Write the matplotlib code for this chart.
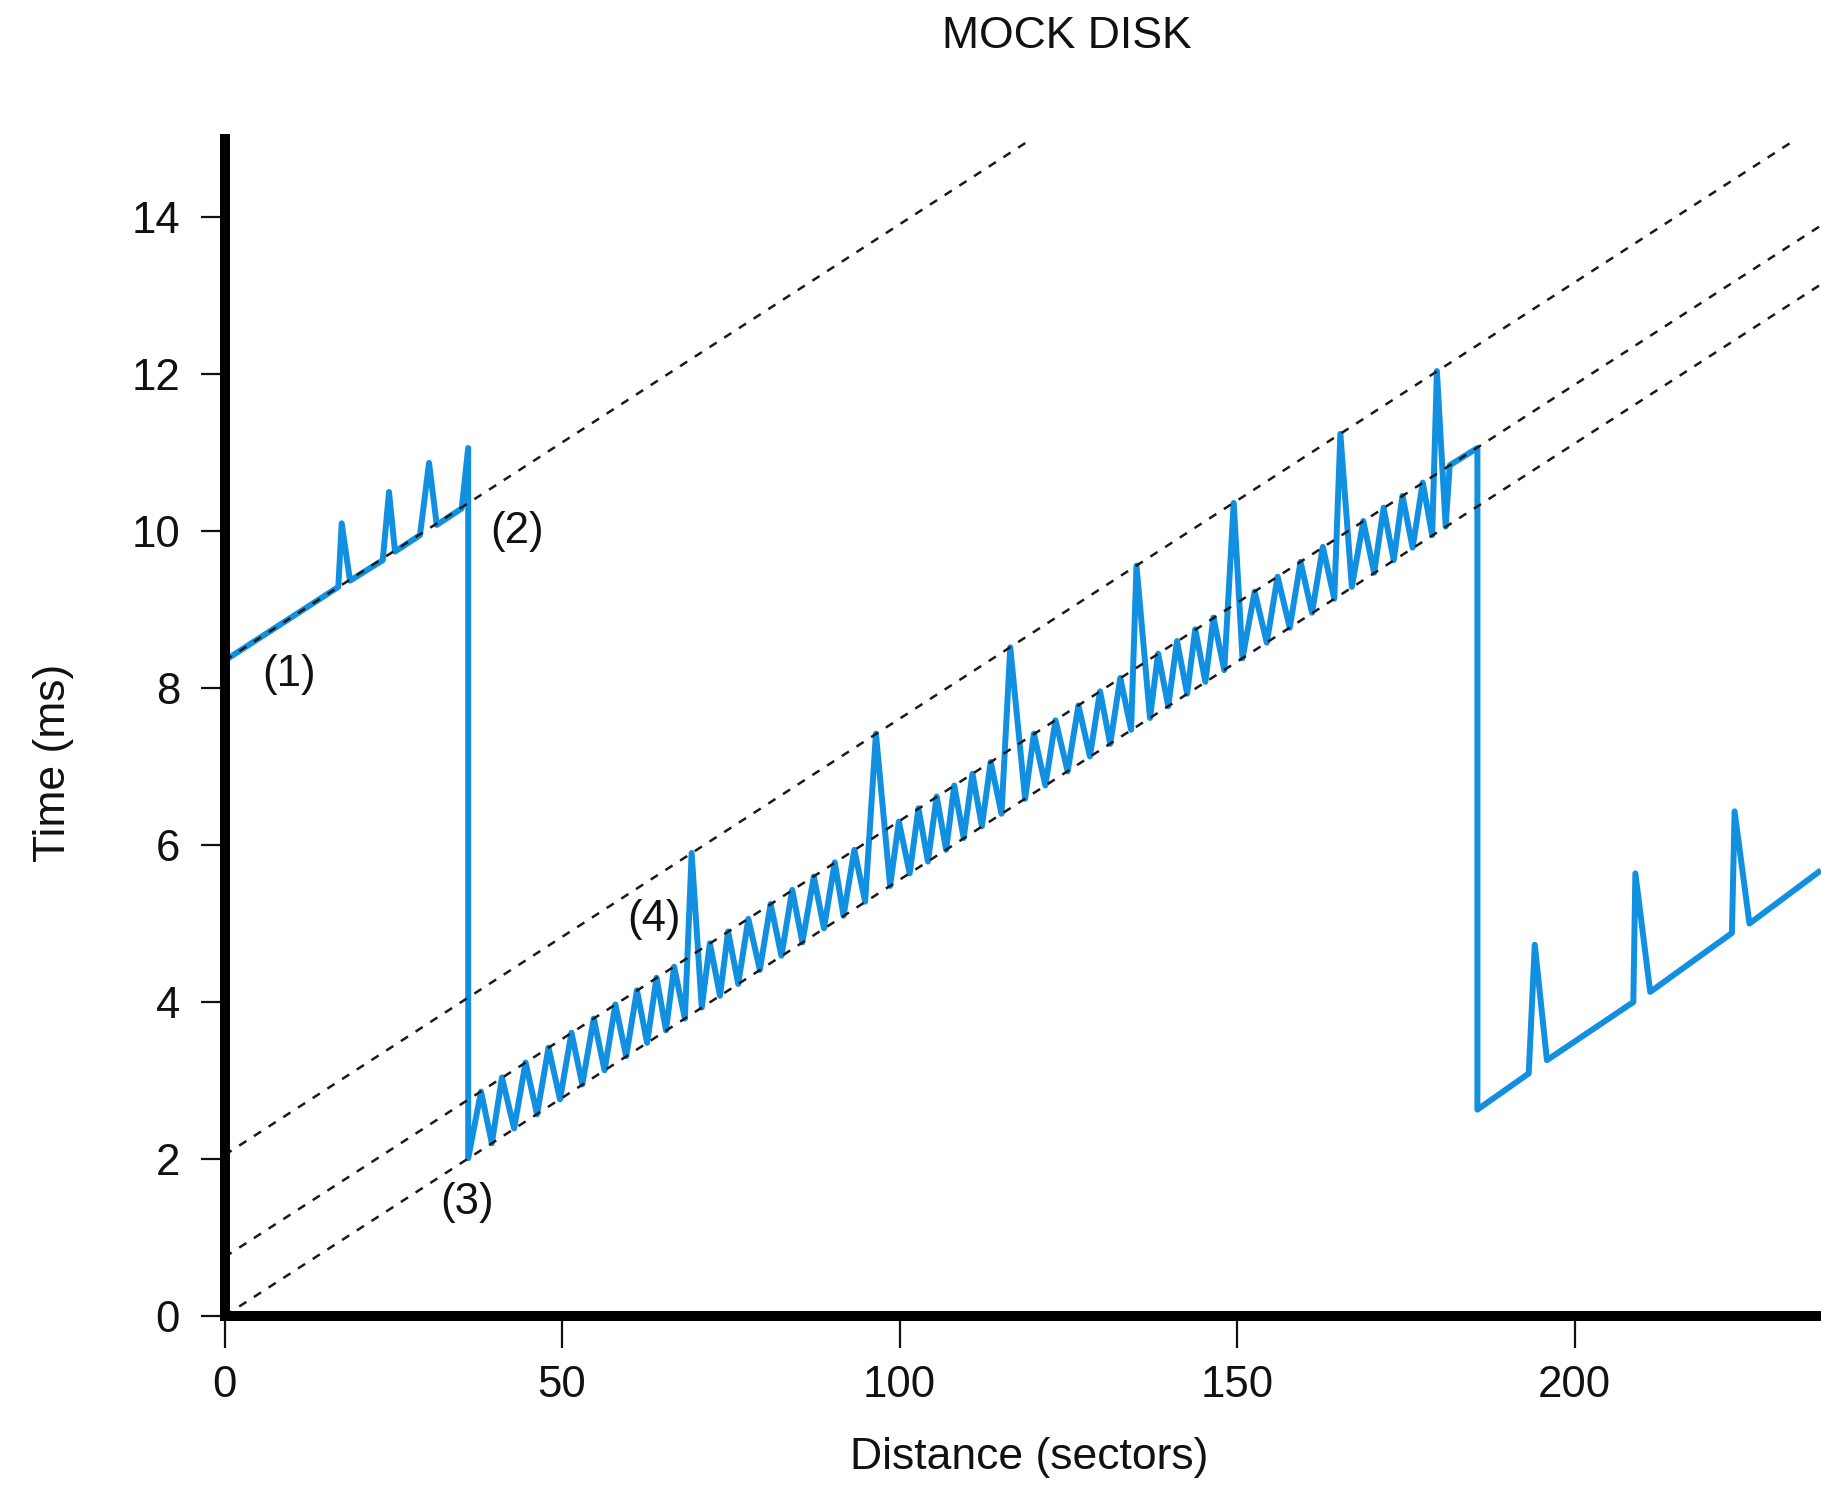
import matplotlib
matplotlib.use("Agg")
import matplotlib.pyplot as plt

plt.rcParams['font.family'] = ['Liberation Sans', 'DejaVu Sans']

# ---------------- data ----------------
title = "MOCK DISK"
x_label = "Distance (sectors)"
y_label = "Time (ms)"
x_ticks = [0, 50, 100, 150, 200]
y_ticks = [0, 2, 4, 6, 8, 10, 12, 14]

# segment (1)-(2): first track
seg1_x = [0.0, 16.86, 17.36, 18.59, 23.44, 24.37, 25.26, 28.96, 30.30, 31.44, 35.14, 36.1]
seg1_y = [8.35, 9.29, 10.10, 9.37, 9.63, 10.50, 9.74, 9.95, 10.87, 10.08, 10.29, 11.06]

# segment (3)-(4): zig-zag section
seg2_x = [36.1, 38.0, 39.6, 41.1, 42.9, 44.6, 46.3, 48.0, 49.7, 51.4, 53.0, 54.7, 56.3,
          57.9, 59.5, 61.1, 62.6, 64.0, 65.4, 66.6, 68.2, 69.2, 70.7, 71.9, 73.4, 74.6,
          76.1, 77.6, 79.3, 80.9, 82.5, 84.1, 85.6, 87.3, 88.8, 90.4, 91.7, 93.3, 94.9,
          96.5, 98.6, 99.9, 101.5, 102.8, 104.2, 105.5, 106.9, 108.1, 109.5, 110.8,
          112.2, 113.5, 115.1, 116.4, 118.6, 119.9, 121.6, 123.1, 124.9, 126.5, 128.2,
          129.7, 131.2, 132.7, 134.3, 135.1, 137.1, 138.3, 139.8, 141.1, 142.6, 143.8,
          145.3, 146.5, 148.1, 149.5, 150.8, 152.6, 154.4, 156.0, 157.8, 159.4, 161.1,
          162.7, 164.4, 165.3, 167.0, 168.7, 170.3, 171.7, 173.2, 174.5, 176.0, 177.5,
          178.9, 179.6, 180.9, 181.5, 185.6]
seg2_y = [2.01, 2.86, 2.20, 3.04, 2.39, 3.23, 2.57, 3.42, 2.76, 3.61, 2.95, 3.79, 3.13,
          3.97, 3.31, 4.15, 3.48, 4.31, 3.64, 4.45, 3.79, 5.90, 3.93, 4.75, 4.08, 4.90,
          4.23, 5.06, 4.41, 5.25, 4.59, 5.43, 4.76, 5.60, 4.94, 5.78, 5.10, 5.94, 5.28,
          7.42, 5.48, 6.30, 5.64, 6.47, 5.79, 6.62, 5.94, 6.76, 6.09, 6.91,
          6.24, 7.06, 6.40, 8.52, 6.59, 7.42, 6.76, 7.59, 6.94, 7.78, 7.13,
          7.96, 7.29, 8.13, 7.47, 9.56, 7.62, 8.44, 7.77, 8.60, 7.93, 8.75,
          8.08, 8.90, 8.23, 10.36, 8.38, 9.23, 8.58, 9.42, 8.77, 9.61, 8.96,
          9.80, 9.14, 11.24, 9.29, 10.13, 9.47, 10.30, 9.63, 10.45, 9.79, 10.62,
          9.95, 12.04, 10.06, 10.84, 11.06]

# final section
seg3_x = [185.6, 193.2, 194.1, 195.9, 208.7, 209.0, 211.2, 223.3, 223.7, 225.9, 236.5]
seg3_y = [2.63, 3.09, 4.73, 3.26, 4.00, 5.64, 4.13, 4.88, 6.43, 5.00, 5.68]

# dashed reference lines (start / end points)
ref_x0 = [0.0, 0.0, 0.0, 0.0]
ref_y0 = [8.35, 2.05, 0.75, 0.0]
ref_x1 = [119.6, 232.9, 240.0, 240.0]
ref_y1 = [15.0, 15.0, 14.09, 13.34]

# annotations
ann_text = ["(1)", "(2)", "(3)", "(4)"]
ann_x = [9.6, 43.3, 36.0, 63.6]
ann_y = [8.18, 9.99, 1.45, 5.05]

# ---------------- figure ----------------
W, H = 1821, 1487
fig = plt.figure(figsize=(W / 100, H / 100), dpi=100)
fig.patch.set_facecolor("white")

ax = fig.add_axes([224.5 / W, (H - 1316) / H, 1 - 224.5 / W, (1316 - 138.8) / H])

line_x = seg1_x + seg2_x + seg3_x
line_y = seg1_y + seg2_y + seg3_y
ax.plot(line_x, line_y, color="#1190e2", lw=4.3, solid_joinstyle="round",
        solid_capstyle="butt", zorder=2)

for x0, y0, x1, y1 in zip(ref_x0, ref_y0, ref_x1, ref_y1):
    ax.plot([x0, x1], [y0, y1], color="#1a1a1a", lw=1.8, linestyle=(0, (3.4, 3.6)), zorder=3)

for t, x, y in zip(ann_text, ann_x, ann_y):
    ax.text(x, y, t, fontsize=31.5, ha="center", va="center", color="#111111")

ax.set_xlim(0, 236.5)
ax.set_ylim(0, 15)
ax.set_xticks(x_ticks)
ax.set_yticks(y_ticks)
ax.set_xticklabels([str(v) for v in x_ticks])
ax.set_yticklabels([str(v) for v in y_ticks])

for s in ["top", "right"]:
    ax.spines[s].set_visible(False)
for s in ["left", "bottom"]:
    ax.spines[s].set_linewidth(7.2)
    ax.spines[s].set_color("black")
    ax.spines[s].set_zorder(4)

ax.tick_params(axis="x", direction="out", length=23, width=1.6, pad=12,
               labelsize=31.5, colors="#111111")
ax.tick_params(axis="y", direction="out", length=17, width=1.6, pad=15,
               labelsize=31.5, colors="#111111")

fig.text(1067 / W, 1 - 37 / H, title, fontsize=32, ha="center", va="center", color="#111111")
fig.text(53 / W, 1 - 763 / H, y_label, fontsize=32, rotation=90, ha="center", va="center",
         color="#111111")
fig.text(1029 / W, 1 - 1457 / H, x_label, fontsize=32, ha="center", va="center", color="#111111")

fig.savefig("out.png", dpi=100, facecolor="white")
